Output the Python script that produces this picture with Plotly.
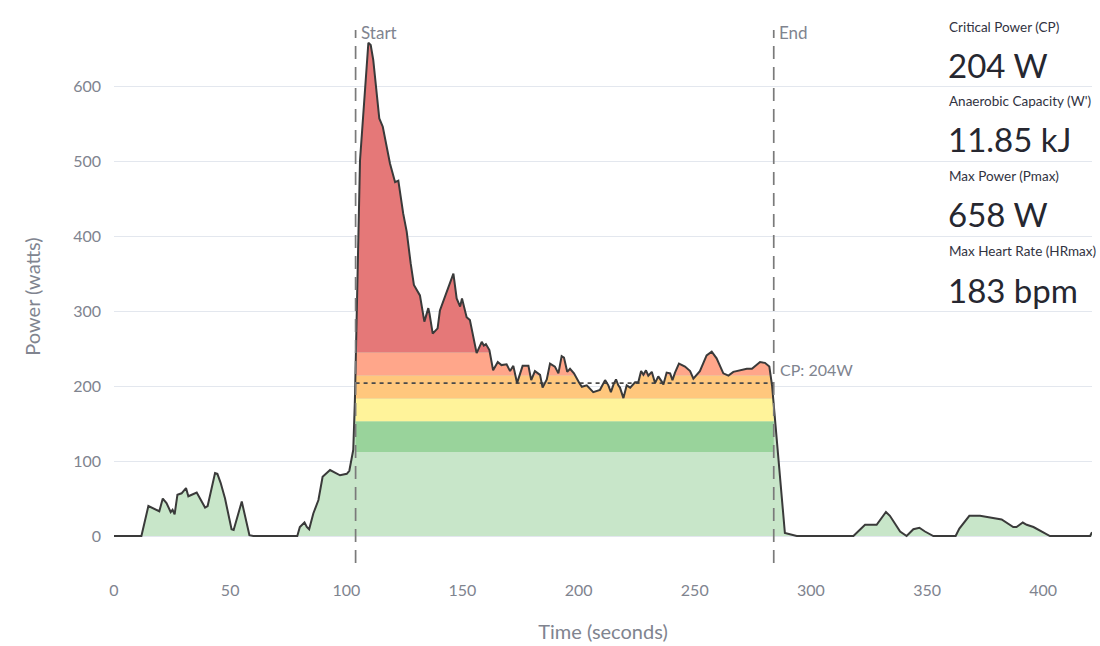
import numpy as np
import plotly.graph_objects as go

# ---------------- data ----------------
time_s = [0, 11.8, 14.8, 19.5, 21, 22.6, 24.4, 25.2, 26.1, 27.3, 29.1, 31, 32, 35.6, 39.2, 40.3,
          43.5, 44.5, 45.9, 47.8, 50.6, 51.5, 55, 58.3, 60, 78.9, 80, 82, 83, 84, 85.8, 88, 89.8,
          93, 97.3, 100.2, 101.3, 102.3, 103, 103.7, 105.9, 109.5, 110.5, 111.6, 113.1, 114.2,
          115.7, 117.4, 118.8, 121, 122.4, 124.5, 126, 127.7, 129.1, 131.7, 133.6, 135.3, 135.8,
          137.2, 139.3, 140.3, 142.9, 143.4, 146.1, 147.5, 149, 149.8, 151.8, 153.2, 154.7, 156.1,
          158.3, 159.2, 160.1, 161.6, 163.2, 165.2, 166.8, 169, 170.5, 171.9, 173.5, 175.9, 178.4,
          179.6, 181.2, 183.4, 184.5, 186.3, 187.7, 189.8, 191.3, 192.7, 193.7, 195.1, 196.3, 198,
          200.3, 201.4, 203.5, 206.3, 209.2, 211.4, 212.8, 213.9, 215, 216.1, 217.1, 217.8, 219.3,
          220.7, 222.2, 224.3, 225.7, 226.9, 227.9, 229, 230, 231.5, 232.9, 234.3, 235.8, 236.5,
          237.9, 239.4, 240.4, 241.5, 243.2, 245.8, 248, 249.4, 252.2, 255.1, 257.3, 259.4, 262.3,
          264.5, 266.6, 272.4, 274.6, 278.1, 280.2, 282.1, 283.3, 288.8, 293.9, 318.3, 323.3,
          328.3, 332.3, 334, 338.4, 341.2, 344.1, 346.7, 349.1, 352.7, 362.3, 363.9, 368.2, 372.8,
          382.1, 387.1, 388.5, 391.2, 392.9, 395.8, 402.9, 420.2, 421]
power_w = [0, 0, 40, 33, 50, 44, 32, 35, 29, 55, 57, 64, 53, 58, 38, 40,
           84, 83, 71, 50, 9, 8, 46, 1, 0, 0, 12, 18, 12, 9, 30, 48, 79,
           88, 81, 83, 87, 106, 115, 181, 501, 658, 655, 635, 586, 557,
           546, 519, 497, 472, 474, 430, 406, 364, 335, 321, 286, 304, 297,
           270, 277, 301, 324, 328, 350, 317, 306, 317, 292, 288, 264, 244,
           259, 254, 256, 248, 221, 232, 228, 229, 220, 227, 204, 227, 227,
           208, 220, 215, 198, 209, 230, 226, 217, 240, 238, 219, 223, 217,
           204, 199, 201, 192, 195, 208, 201, 192, 202, 209, 201, 198, 184,
           201, 198, 205, 205, 220, 215, 221, 214, 219, 204, 213, 206, 202,
           218, 217, 208, 218, 230, 226, 220, 210, 220, 241, 246, 237, 217,
           214, 219, 223, 223, 232, 231, 226, 200, 4, 0, 0, 15,
           15, 32, 27, 6, 0, 9, 11, 6, 0, 0, 10, 27, 27,
           22, 12, 12, 18, 15, 12, 0, 0, 5]

effort_start = 104
effort_end = 284
cp_watts = 204
zone_fractions = [0.55, 0.75, 0.90, 1.05, 1.20]
zone_colors = ["#c8e6c9", "#99d39b", "#fff39a", "#ffc77d", "#ffa68a", "#e57878"]

metric_labels = ["Critical Power (CP)", "Anaerobic Capacity (W')", "Max Power (Pmax)", "Max Heart Rate (HRmax)"]
metric_values = ["204 W", "11.85 kJ", "658 W", "183 bpm"]

FONT = "Source Sans Pro, Lato, sans-serif"
GRAY = "#80848f"

# ---------------- geometry helpers (exact crossings) ----------------
t = np.asarray(time_s, float)
p = np.asarray(power_w, float)
levels = [cp_watts * f for f in zone_fractions]

xs, ys = [t[0]], [p[0]]
for i in range(1, len(t)):
    t0, t1, p0, p1 = t[i - 1], t[i], p[i - 1], p[i]
    extra = []
    for L in levels:
        if (p0 - L) * (p1 - L) < 0:
            extra.append(t0 + (L - p0) / (p1 - p0) * (t1 - t0))
    for b in (effort_start, effort_end):
        if t0 < b < t1:
            extra.append(b)
    for c in sorted(extra):
        xs.append(c)
        ys.append(p0 + (p1 - p0) * (c - t0) / (t1 - t0))
    xs.append(t1)
    ys.append(p1)
xs = np.array(xs)
ys = np.array(ys)
m = (xs >= effort_start) & (xs <= effort_end)
xz, yz = xs[m], ys[m]

fig = go.Figure()

# base light-green fill under the whole curve
fig.add_trace(go.Scatter(x=t, y=p, mode="lines", line=dict(width=0), fill="tozeroy",
                         fillcolor=zone_colors[0], hoverinfo="skip", showlegend=False))

bounds = [0] + levels + [None]
for k in range(1, 6):
    lo = bounds[k]
    hi = bounds[k + 1]
    lower = np.minimum(yz, lo)
    upper = yz if hi is None else np.minimum(yz, hi)
    fig.add_trace(go.Scatter(x=xz, y=lower, mode="lines", line=dict(width=0),
                             hoverinfo="skip", showlegend=False))
    fig.add_trace(go.Scatter(x=xz, y=upper, mode="lines", line=dict(width=0), fill="tonexty",
                             fillcolor=zone_colors[k], hoverinfo="skip", showlegend=False))

# CP dashed line
fig.add_trace(go.Scatter(x=[effort_start, effort_end], y=[cp_watts, cp_watts], mode="lines",
                         line=dict(color="#4a4a4a", width=1.6, dash="4px,4px"),
                         hoverinfo="skip", showlegend=False))

# power line
fig.add_trace(go.Scatter(x=t, y=p, mode="lines", line=dict(color="#3a3a3a", width=2),
                         showlegend=False))

# start / end vertical lines
for xv, lab in ((effort_start, "Start"), (effort_end, "End")):
    fig.add_shape(type="line", x0=xv, x1=xv, xref="x", y0=0, y1=1, yref="paper",
                  line=dict(color="#7a7a7a", width=1.7, dash="13px,8px"), layer="above")
    fig.add_annotation(x=xv, y=1.0, xref="x", yref="paper", text=lab, showarrow=False,
                       xanchor="left", yanchor="middle", xshift=3, yshift=-2,
                       font=dict(family=FONT, size=17, color=GRAY))

fig.add_annotation(x=effort_end, y=cp_watts, xref="x", yref="y", text="CP: %dW" % cp_watts,
                   showarrow=False, xanchor="left", yanchor="bottom", xshift=4, yshift=2,
                   font=dict(family=FONT, size=16, color=GRAY))

# metrics panel
plot_top, plot_bot = 30, 563
def py2paper(py):
    return (plot_bot - py) / (plot_bot - plot_top)
label_py = [27, 101, 176, 251]
value_py = [65, 139, 214, 290]
for lab, val, ly, vy in zip(metric_labels, metric_values, label_py, value_py):
    fig.add_annotation(x=(947 - 114) / 978, y=py2paper(ly), xref="paper", yref="paper", text=lab,
                       showarrow=False, xanchor="left", yanchor="middle",
                       font=dict(family=FONT, size=13.5, color="#31333f"))
    fig.add_annotation(x=(946 - 114) / 978, y=py2paper(vy), xref="paper", yref="paper", text=val,
                       showarrow=False, xanchor="left", yanchor="middle",
                       font=dict(family=FONT, size=33, color="#262730"))

fig.update_layout(
    width=1100, height=646,
    margin=dict(l=114, r=8, t=30, b=83),
    paper_bgcolor="white", plot_bgcolor="white",
    font=dict(family=FONT, color=GRAY),
    xaxis=dict(range=[0, 421], tickvals=[0, 50, 100, 150, 200, 250, 300, 350, 400],
               showgrid=False, zeroline=False, showline=False, ticks="",
               ticklabelstandoff=16, tickfont=dict(size=16, color=GRAY),
               title=dict(text="Time (seconds)", font=dict(size=20, color=GRAY), standoff=26)),
    yaxis=dict(range=[-36, 675], tickvals=[0, 100, 200, 300, 400, 500, 600],
               showgrid=True, gridcolor="#e3e7ee", gridwidth=1, zeroline=False, showline=False,
               ticks="", ticklabelstandoff=12, tickfont=dict(size=16, color=GRAY),
               title=dict(text="Power (watts)", font=dict(size=20, color=GRAY), standoff=27)),
)

fig.write_html("out.html")
